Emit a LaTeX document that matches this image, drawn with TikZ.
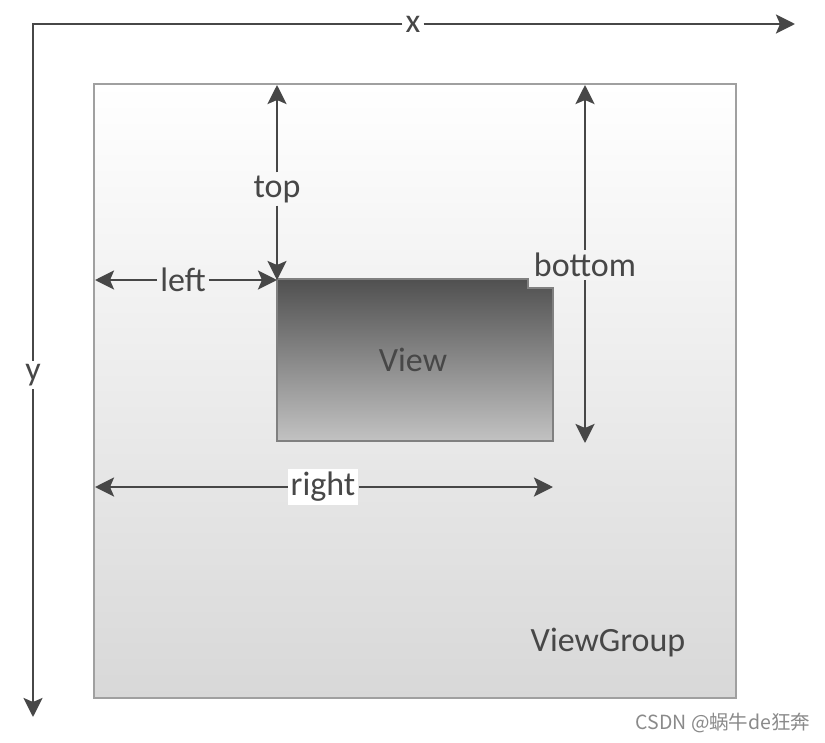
\documentclass[tikz,border=0pt]{standalone}
\usepackage{fontspec}
\setmainfont{Carlito}
\newfontfamily\cjkfont{Noto Sans CJK SC}
\usetikzlibrary{arrows.meta}
\definecolor{ink}{HTML}{474747}
\definecolor{vgborder}{HTML}{A0A0A0}
\definecolor{vgbottom}{HTML}{D8D8D8}
\definecolor{viewtop}{HTML}{505050}
\definecolor{viewbottom}{HTML}{C2C2C2}
\definecolor{wm}{HTML}{8A8A8A}
\tikzset{
  axisline/.style={draw=ink, line width=2.8pt, line join=miter},
  arr/.style={draw=ink, line width=2.8pt, -{Stealth[length=19pt,width=19pt,inset=4pt]}},
  lbl/.style={text=ink, font=\fontsize{34}{40}\selectfont, inner sep=3pt},
  boxlbl/.style={text=ink, font=\fontsize{34}{40}\selectfont, inner sep=0pt},
}
\begin{document}
\begin{tikzpicture}[x=1pt,y=-1pt]
\useasboundingbox (0,0) rectangle (825,742);
\fill[white] (0,0) rectangle (825,742);
% ViewGroup
\path[draw=vgborder, line width=2pt, top color=white, bottom color=vgbottom] (94,84) rectangle (736,698);
\node[boxlbl] (vglbl) at (608,643) {ViewGroup};
% View
\path[draw=gray, line width=1.2pt, top color=viewtop, bottom color=viewbottom]
  (277,279) -- (528,279) -- (528,288) -- (553,288) -- (553,441) -- (277,441) -- cycle;
\node[boxlbl] (viewlbl) at (413,360) {View};
% axes
\coordinate (o) at (33,24);
\node[lbl] (xl) at (413,24) {x};
\coordinate (xe) at (795,24);
\node[lbl] (yl) at (33,375) {y};
\coordinate (ye) at (33,717);
\draw[axisline] (xl) -- (o) -- (yl);
\draw[arr] (xl) -- (xe);
\draw[arr] (yl) -- (ye);
% reference points
\coordinate (vgtopA) at (277,85);
\coordinate (vgtopB) at (585,85);
\coordinate (vgleftA) at (95,280);
\coordinate (vgleftB) at (95,487);
\coordinate (viewtl) at (277,280);
\coordinate (viewb) at (585,443);
\coordinate (viewr) at (553,487);
% top
\node[lbl] (toplbl) at (277,189) {top};
\draw[arr] (toplbl) -- (vgtopA);
\draw[arr] (toplbl) -- (viewtl);
% left
\node[lbl] (leftlbl) at (183,280) {left};
\draw[arr] (leftlbl) -- (vgleftA);
\draw[arr] (leftlbl) -- (viewtl);
% bottom
\node[lbl] (botlbl) at (585,265) {bottom};
\draw[arr] (botlbl) -- (vgtopB);
\draw[arr] (botlbl) -- (viewb);
% right
\node[lbl, fill=white] (rightlbl) at (323,487) {right};
\draw[arr] (rightlbl) -- (vgleftB);
\draw[arr] (rightlbl) -- (viewr);
% watermark
\node[text=wm, font=\cjkfont\fontsize{19.5}{24}\selectfont, inner sep=0pt] (wmark) at (723,723) {CSDN @蜗牛de狂奔};
\end{tikzpicture}
\end{document}
